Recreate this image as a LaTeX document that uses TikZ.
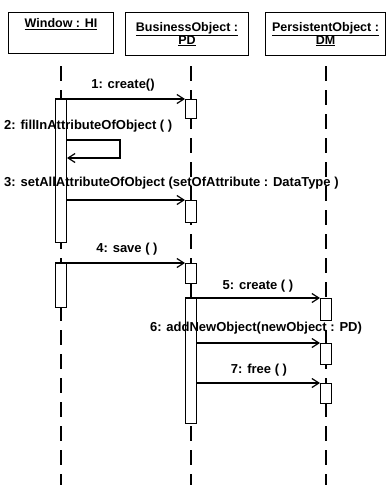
\documentclass[tikz,border=0pt]{standalone}
\usepackage{fontspec}
\setmainfont{Liberation Sans}
\usetikzlibrary{arrows.meta}
\begin{document}
\begin{tikzpicture}[x=1pt,y=-1pt,
  hdr/.style={draw,line width=1pt,fill=white,inner sep=0pt,anchor=north west,align=center,
    font=\fontsize{12.5}{14}\selectfont\bfseries},
  act/.style={draw,line width=1pt,fill=white,minimum width=11pt,inner sep=0pt,anchor=north},
  life/.style={line width=1.2pt,dash pattern=on 15pt off 9pt},
  msg/.style={line width=1.2pt,-{Straight Barb[length=7pt,width=9pt,line width=1.2pt]}},
  lbl/.style={font=\fontsize{13}{15}\selectfont\bfseries,inner sep=0pt}]
\useasboundingbox (0,0) rectangle (387,485);
% header boxes
\node[hdr,minimum width=105pt,minimum height=41pt,text depth=20pt] (win) at (8,12)
  {\underline{Window : HI}};
\node[hdr,minimum width=123pt,minimum height=43pt] (bus) at (125,12)
  {\underline{BusinessObject :}\\[-1pt]\underline{PD}};
\node[hdr,minimum width=120pt,minimum height=43pt] (per) at (265,12)
  {\underline{PersistentObject :}\\[-1pt]\underline{DM}};
% lifelines
\coordinate (wT) at (61,66); \coordinate (wB) at (61,485);
\coordinate (bT) at (191,66); \coordinate (bB) at (191,485);
\coordinate (pT) at (326,66); \coordinate (pB) at (326,485);
\draw[life] (wT) -- (wB);
\draw[life] (bT) -- (bB);
\draw[life] (pT) -- (pB);
% activations
\node[act,minimum height=143pt] (wa1) at (61,99) {};
\node[act,minimum height=44pt] (wa2) at (61,263) {};
\node[act,minimum height=19pt] (ba1) at (191,99) {};
\node[act,minimum height=22pt] (ba2) at (191,200) {};
\node[act,minimum height=20pt] (ba3) at (191,263) {};
\node[act,minimum height=125pt] (ba4) at (191,298) {};
\node[act,minimum height=22pt] (pa1) at (326,298) {};
\node[act,minimum height=21pt] (pa2) at (326,343) {};
\node[act,minimum height=20pt] (pa3) at (326,383) {};
% messages
\node[lbl] (l1) at (123,85) {1: create()};
\draw[msg] (wa1.north west) -- (ba1.north west);
\node[lbl,anchor=west] (l2) at (4,126) {2: fillInAttributeOfObject ( )};
\coordinate (s1) at (120,140); \coordinate (s2) at (120,158);
\draw[msg] (wa1.east |- s1) -- (s1) -- (s2) -- (wa1.east |- s2);
\node[lbl,anchor=west] (l3) at (4,183) {3: setAllAttributeOfObject (setOfAttribute : DataType )};
\draw[msg] (wa1.east |- ba2.north) -- (ba2.north west);
\node[lbl] (l4) at (127,249) {4: save ( )};
\draw[msg] (wa2.north west) -- (ba3.north west);
\node[lbl] (l5) at (258,286) {5: create ( )};
\draw[msg] (ba4.north west) -- (pa1.north west);
\node[lbl] (l6) at (256,328) {6: addNewObject(newObject : PD)};
\draw[msg] (ba4.east |- pa2.north) -- (pa2.north west);
\node[lbl] (l7) at (259,370) {7: free ( )};
\draw[msg] (ba4.east |- pa3.north) -- (pa3.north west);
\end{tikzpicture}
\end{document}
